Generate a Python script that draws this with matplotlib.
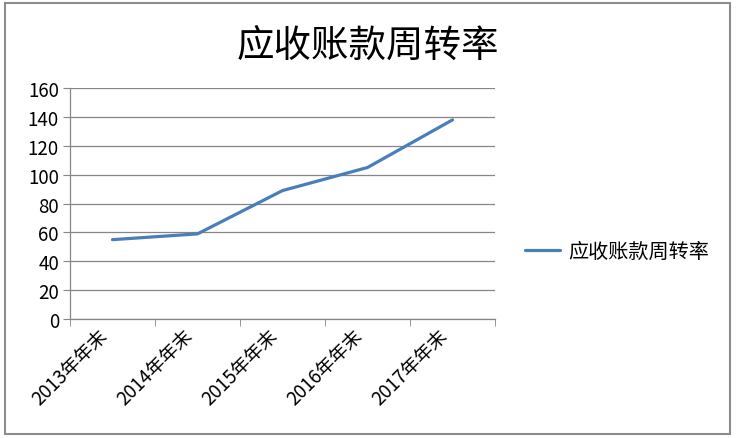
import matplotlib.pyplot as plt
from matplotlib.patches import Rectangle

plt.rcParams['font.family'] = ['Noto Sans CJK SC', 'DejaVu Sans']

# %% dane
kategorie = ['2013年年末', '2014年年末', '2015年年末', '2016年年末', '2017年年末']
wartosci = [55, 59, 89, 105, 138]
nazwa = '应收账款周转率'

# %% wykres
fig = plt.figure(figsize=(7.36, 4.39), dpi=100)
fig.patches.append(Rectangle((0.007, 0.009), 0.985, 0.983, transform=fig.transFigure,
                             fill=False, edgecolor='#8c8c8c', linewidth=1.5))
ax = fig.add_axes([0.0951, 0.271, 0.5775, 0.526])

x = list(range(len(kategorie)))
ax.plot(x, wartosci, color='#4A7EBB', linewidth=2.3, label=nazwa, solid_capstyle='round')

ax.set_xlim(-0.5, len(kategorie) - 0.5)
ax.set_ylim(0, 160)
ax.set_yticks(range(0, 161, 20))
ax.tick_params(axis='y', labelsize=13.5, length=5, color='#868686', pad=3)
ax.yaxis.grid(True, color='#868686', linewidth=0.9)
ax.set_axisbelow(True)

ax.set_xticks(x)
ax.set_xticklabels(kategorie, rotation=45, ha='right', va='top', fontsize=13.5)
ax.tick_params(axis='x', which='major', length=0, pad=4)
ax.set_xticks([i - 0.5 for i in range(len(kategorie) + 1)], minor=True)
ax.tick_params(axis='x', which='minor', length=5, color='#868686')

for s in ['top', 'right']:
    ax.spines[s].set_visible(False)
for s in ['left', 'bottom']:
    ax.spines[s].set_color('#868686')
    ax.spines[s].set_linewidth(0.9)

fig.text(0.5, 0.893, nazwa, ha='center', va='center', fontsize=27)

fig.legend(loc='center left', bbox_to_anchor=(0.702, 0.425), frameon=False,
           fontsize=14.5, handlelength=1.75, handletextpad=0.4, borderaxespad=0)

plt.savefig('out.png', dpi=100)
